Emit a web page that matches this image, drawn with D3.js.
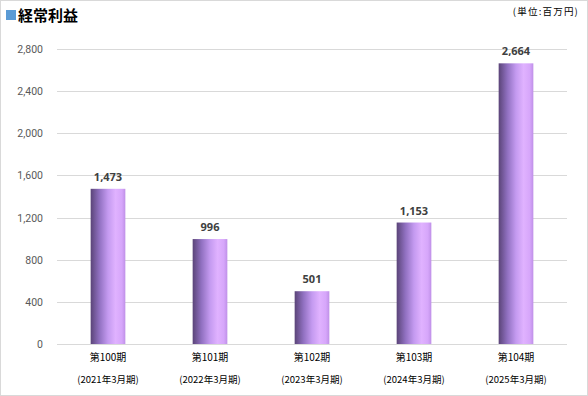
<!DOCTYPE html>
<html>
<head>
<meta charset="utf-8">
<script src="https://cdn.jsdelivr.net/npm/d3@7"></script>
<style>
  body { margin: 0; background: #fff; }
  svg { display: block; font-family: "Noto Sans CJK JP", "Noto Sans", sans-serif; }
</style>
</head>
<body>
<div id="chart"></div>
<script>
// 経常利益（百万円）
const periods = ["第100期", "第101期", "第102期", "第103期", "第104期"];
const fiscalYears = ["(2021年3月期)", "(2022年3月期)", "(2023年3月期)", "(2024年3月期)", "(2025年3月期)"];
const values = [1473, 996, 501, 1153, 2664];
const yTicks = [0, 400, 800, 1200, 1600, 2000, 2400, 2800];

const W = 588, H = 396;
const margin = { top: 49, right: 21, bottom: 52, left: 57 };
const width = W - margin.left - margin.right,
    height = H - margin.top - margin.bottom;

const svg = d3.select("#chart")
    .append("svg")
    .attr("width", W)
    .attr("height", H);

// frame
svg.append("rect")
    .attr("x", 0.5).attr("y", 0.5)
    .attr("width", W - 1).attr("height", H - 1)
    .attr("fill", "#fff")
    .attr("stroke", "#d9d9d9");

// title
svg.append("rect")
    .attr("x", 6).attr("y", 10)
    .attr("width", 10).attr("height", 10)
    .attr("fill", "#5b9bd5");
svg.append("text")
    .attr("x", 18).attr("y", 21)
    .text("経常利益")
    .style("font-size", "15px")
    .style("font-weight", "bold")
    .attr("fill", "#000");
svg.append("text")
    .attr("x", 579).attr("y", 15)
    .attr("text-anchor", "end")
    .text("(単位:百万円)")
    .style("font-size", "9.5px")
    .style("letter-spacing", "1.2px")
    .attr("fill", "#000");

const defs = svg.append("defs");
const grad = defs.append("linearGradient")
    .attr("id", "barGrad")
    .attr("x1", "0%").attr("x2", "100%")
    .attr("y1", "0%").attr("y2", "0%");
[
    [0, "#5a4478"],
    [0.25, "#9070c0"],
    [0.5, "#c49af0"],
    [0.72, "#e0b2ff"],
    [0.9, "#d6a6fa"],
    [1, "#bf90e8"]
].forEach(s => grad.append("stop").attr("offset", s[0]).attr("stop-color", s[1]));

const chart = svg.append("g")
    .attr("transform", `translate(${margin.left},${margin.top})`);

const x = d3.scaleBand()
    .domain(periods)
    .range([0, width])
    .paddingInner(0.66)
    .paddingOuter(0.33);

const y = d3.scaleLinear()
    .domain([0, 2800])
    .range([height, 0]);

// gridlines
chart.append("g")
    .selectAll("line")
    .data(yTicks)
    .enter()
    .append("line")
    .attr("x1", 0).attr("x2", width)
    .attr("y1", d => Math.round(y(d)) + 0.5)
    .attr("y2", d => Math.round(y(d)) + 0.5)
    .attr("stroke", "#d9d9d9")
    .attr("stroke-width", 1);

// y axis labels
chart.append("g")
    .selectAll("text")
    .data(yTicks)
    .enter()
    .append("text")
    .attr("x", -14)
    .attr("y", d => y(d) + 4)
    .attr("text-anchor", "end")
    .text(d => d3.format(",")(d))
    .style("font-size", "10.5px")
    .style("font-family", "Roboto, 'Noto Sans', sans-serif")
    .attr("fill", "#595959");

// bars
chart.selectAll(".bar")
    .data(values)
    .enter()
    .append("rect")
    .attr("class", "bar")
    .attr("x", (d, i) => x(periods[i]))
    .attr("y", d => y(d))
    .attr("width", x.bandwidth())
    .attr("height", d => height - y(d))
    .attr("fill", "url(#barGrad)");

// value labels
chart.selectAll(".val")
    .data(values)
    .enter()
    .append("text")
    .attr("class", "val")
    .attr("x", (d, i) => x(periods[i]) + x.bandwidth() / 2)
    .attr("y", d => y(d) - 8)
    .attr("text-anchor", "middle")
    .text(d => d3.format(",")(d))
    .style("font-size", "11px")
    .style("font-weight", "bold")
    .style("font-family", "'Open Sans', 'Noto Sans', sans-serif")
    .attr("fill", "#404040");

// x axis labels
const xl = chart.append("g")
    .attr("transform", `translate(0,${height})`);
xl.selectAll(".per")
    .data(periods)
    .enter()
    .append("text")
    .attr("class", "per")
    .attr("x", d => x(d) + x.bandwidth() / 2)
    .attr("y", 17)
    .attr("text-anchor", "middle")
    .text(d => d)
    .style("font-size", "10px")
    .attr("fill", "#000");
xl.selectAll(".fy")
    .data(fiscalYears)
    .enter()
    .append("text")
    .attr("class", "fy")
    .attr("x", (d, i) => x(periods[i]) + x.bandwidth() / 2)
    .attr("y", 39)
    .attr("text-anchor", "middle")
    .text(d => d)
    .style("font-size", "9.5px")
    .attr("fill", "#000");
</script>
</body>
</html>
